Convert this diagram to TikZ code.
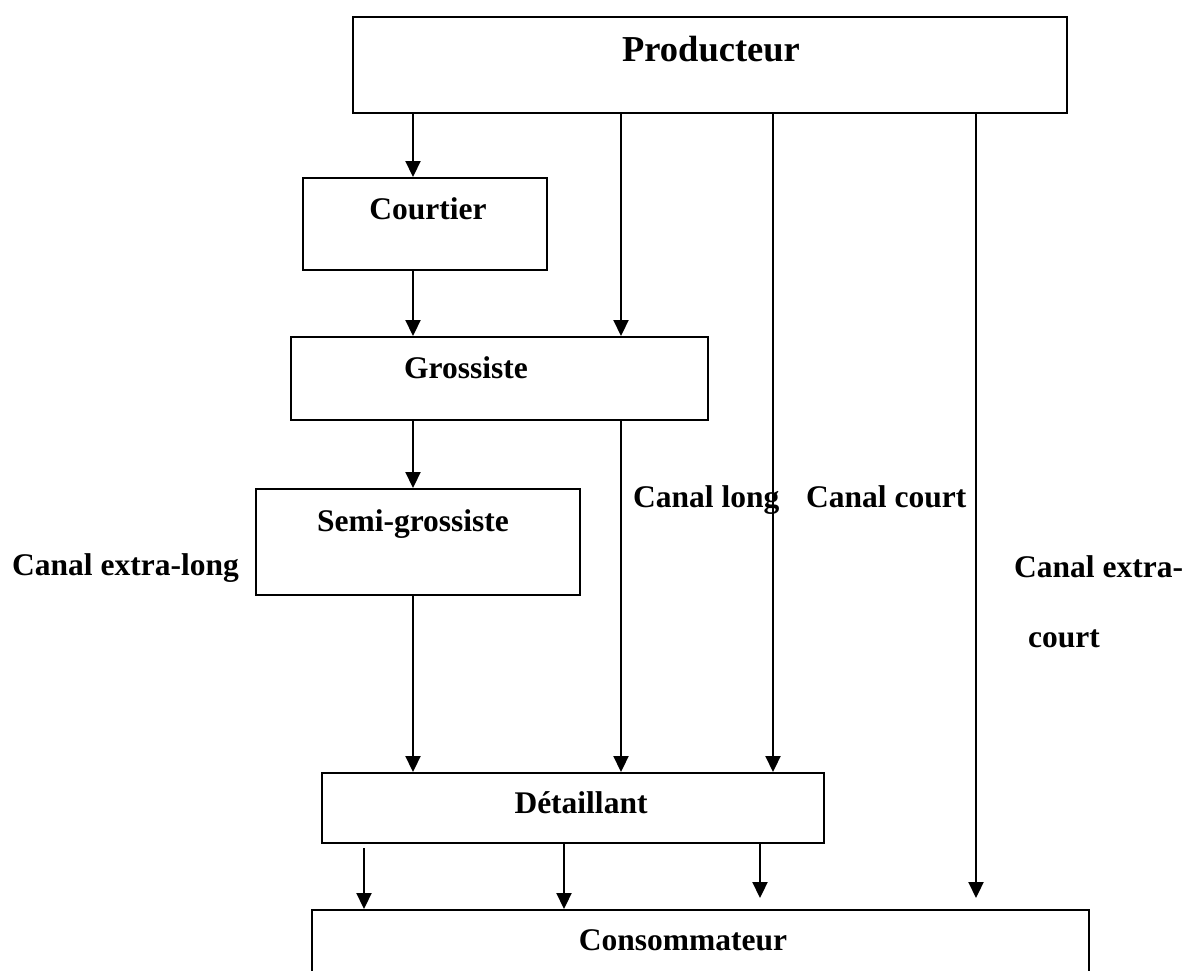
\documentclass[tikz,border=0pt]{standalone}
\usepackage{fontspec}
\setmainfont{Liberation Serif}
\usetikzlibrary{arrows.meta}
\begin{document}
\begin{tikzpicture}[x=1pt,y=-1pt,
  box/.style={draw, line width=2pt, inner sep=0pt, anchor=north west},
  lbl/.style={inner sep=0pt, anchor=base, font=\fontsize{31.5}{38}\selectfont\bfseries},
  lblw/.style={lbl, anchor=base west},
  arr/.style={line width=2.2pt, -{Triangle[width=15pt,length=16pt]}}]
\useasboundingbox (0,0) rectangle (1185,971);
\clip (0,0) rectangle (1185,971);
% boxes
\node[box, minimum width=714pt, minimum height=96pt] (prod) at (352,16) {};
\node[box, minimum width=244pt, minimum height=92pt] (court) at (302,177) {};
\node[box, minimum width=417pt, minimum height=83pt] (gros) at (290,336) {};
\node[box, minimum width=324pt, minimum height=106pt] (semi) at (255,488) {};
\node[box, minimum width=502pt, minimum height=70pt] (det) at (321,772) {};
\node[box, minimum width=777pt, minimum height=110pt] (cons) at (311,909) {};
% box texts
\node[lbl, font=\fontsize{36.5}{44}\selectfont\bfseries] (prodT) at (711,62) {Producteur};
\node[lbl] (courtT) at (428,219) {Courtier};
\node[lbl] (grosT) at (466,378) {Grossiste};
\node[lbl] (semiT) at (413,531) {Semi-grossiste};
\node[lbl] (detT) at (581,813) {Détaillant};
\node[lbl] (consT) at (683,950) {Consommateur};
% channel labels
\node[lblw] (cxl) at (12,575) {Canal extra-long};
\node[lblw] (cl) at (633,507) {Canal long};
\node[lblw] (cc) at (806,507) {Canal court};
\node[lblw] (cxc1) at (1014,577) {Canal extra-};
\node[lblw] (cxc2) at (1028,647) {court};
% arrow columns
\coordinate (xa) at (413,0);
\coordinate (xb) at (621,0);
\coordinate (xc) at (773,0);
\coordinate (xe) at (364,0);
\coordinate (xf) at (564,0);
\coordinate (endD) at (976,898);
\coordinate (endG) at (760,898);
% arrows
\draw[arr] (prod.south -| xa) -- (court.north -| xa);
\draw[arr] (prod.south -| xb) -- (gros.north -| xb);
\draw[arr] (prod.south -| xc) -- (det.north -| xc);
\draw[arr] (prod.south -| endD) -- (endD);
\draw[arr] (court.south -| xa) -- (gros.north -| xa);
\draw[arr] (gros.south -| xa) -- (semi.north -| xa);
\draw[arr] (gros.south -| xb) -- (det.north -| xb);
\draw[arr] (semi.south -| xa) -- (det.north -| xa);
\draw[arr] ([yshift=-4pt]det.south -| xe) -- (cons.north -| xe);
\draw[arr] (det.south -| xf) -- (cons.north -| xf);
\draw[arr] (det.south -| endG) -- (endG);
\end{tikzpicture}
\end{document}
